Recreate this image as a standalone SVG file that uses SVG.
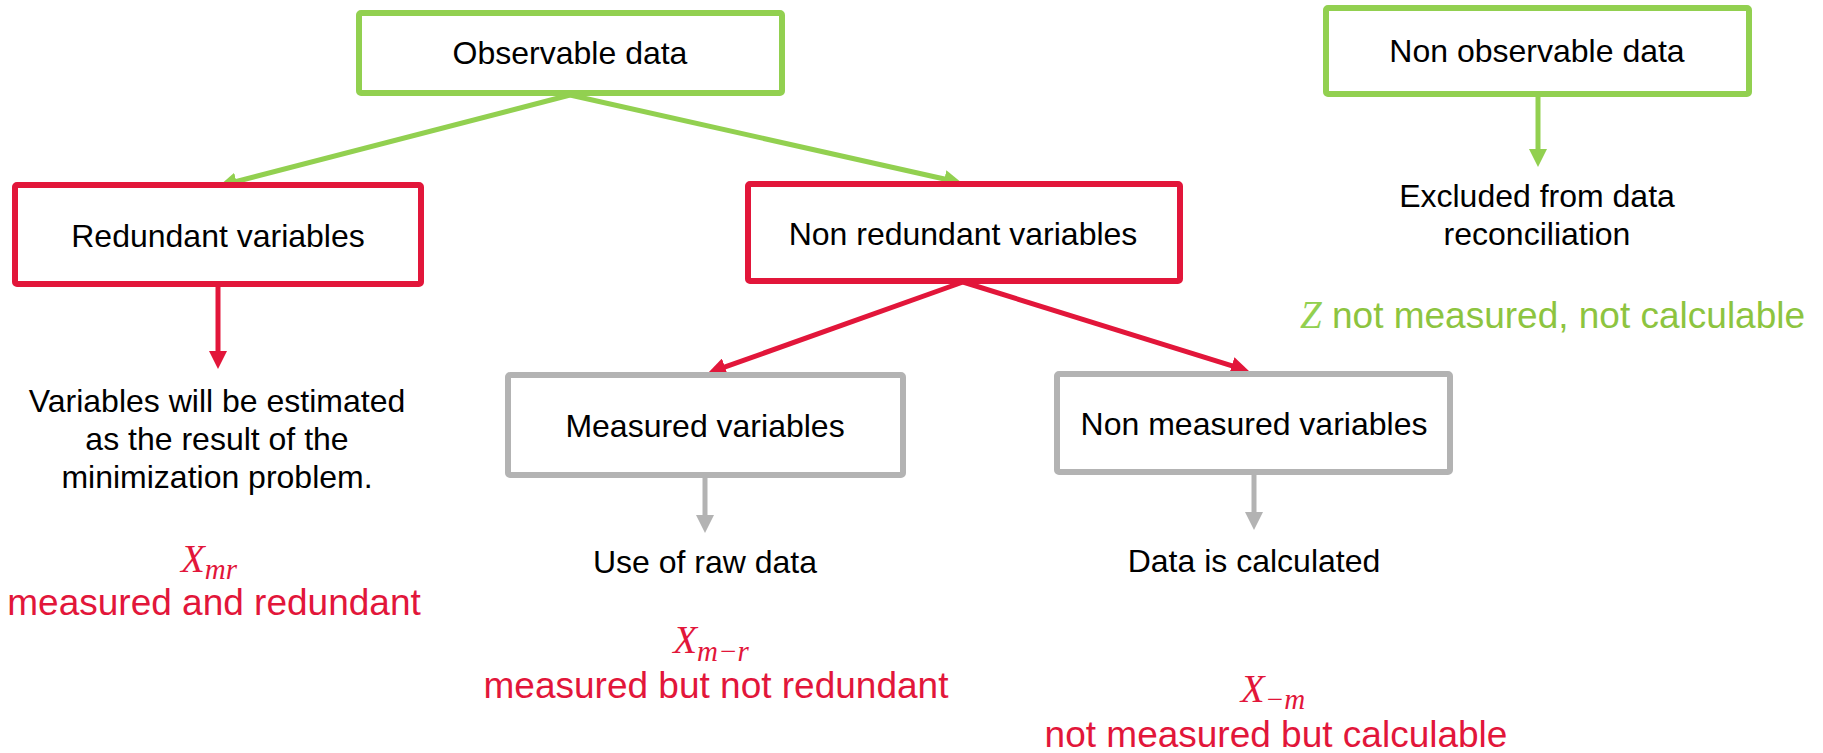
<svg xmlns="http://www.w3.org/2000/svg" width="1823" height="753" viewBox="0 0 1823 753">
  <style>
    .box { fill: #ffffff; stroke-width: 6; stroke-linejoin: round; }
    .green { stroke: #92d050; }
    .red { stroke: #e2163a; }
    .gray { stroke: #b3b3b3; }
    .lbl { font-family: "Liberation Sans", Arial, sans-serif; font-size: 32px; fill: #000000; text-anchor: middle; }
    .note { font-family: "Liberation Sans", Arial, sans-serif; font-size: 37px; text-anchor: middle; }
    .math { font-family: "Liberation Serif", "Times New Roman", serif; font-style: italic; font-size: 39px; }
    .sub { font-size: 29px; }
    .conn { fill: none; stroke-width: 5; }
  </style>
  <defs>
    <marker id="headGreen" markerUnits="userSpaceOnUse" markerWidth="18" markerHeight="18" refX="8" refY="9" orient="auto">
      <path d="M0,0 L18,9 L0,18 Z" fill="#92d050"/>
    </marker>
    <marker id="headRed" markerUnits="userSpaceOnUse" markerWidth="18" markerHeight="18" refX="8" refY="9" orient="auto">
      <path d="M0,0 L18,9 L0,18 Z" fill="#e2163a"/>
    </marker>
    <marker id="headGray" markerUnits="userSpaceOnUse" markerWidth="18" markerHeight="18" refX="8" refY="9" orient="auto">
      <path d="M0,0 L18,9 L0,18 Z" fill="#b3b3b3"/>
    </marker>
  </defs>

  <!-- connectors -->
  <g id="connectors">
    <line class="conn green" x1="570" y1="95" x2="228.7" y2="183.5" marker-end="url(#headGreen)"/>
    <line class="conn green" x1="570" y1="95" x2="952.2" y2="180.8" marker-end="url(#headGreen)"/>
    <line class="conn green" x1="1538" y1="96" x2="1538" y2="157" marker-end="url(#headGreen)"/>
    <line class="conn red" x1="218" y1="286" x2="218" y2="359" marker-end="url(#headRed)"/>
    <line class="conn red" x1="963" y1="282" x2="717.4" y2="369.7" marker-end="url(#headRed)"/>
    <line class="conn red" x1="963" y1="282" x2="1239.4" y2="368.1" marker-end="url(#headRed)"/>
    <line class="conn gray" x1="705" y1="477" x2="705" y2="523" marker-end="url(#headGray)"/>
    <line class="conn gray" x1="1254" y1="474" x2="1254" y2="520" marker-end="url(#headGray)"/>
  </g>

  <!-- nodes -->
  <g id="observable">
    <rect class="box green" x="359" y="13" width="423" height="80" rx="2"/>
    <text class="lbl" x="570" y="64">Observable data</text>
  </g>
  <g id="non-observable">
    <rect class="box green" x="1326" y="8" width="423" height="86" rx="2"/>
    <text class="lbl" x="1537" y="62">Non observable data</text>
  </g>
  <g id="redundant">
    <rect class="box red" x="15" y="185" width="406" height="99" rx="2"/>
    <text class="lbl" x="218" y="247">Redundant variables</text>
  </g>
  <g id="non-redundant">
    <rect class="box red" x="748" y="184" width="432" height="97" rx="2"/>
    <text class="lbl" x="963" y="245">Non redundant variables</text>
  </g>
  <g id="measured">
    <rect class="box gray" x="508" y="375" width="395" height="100" rx="2"/>
    <text class="lbl" x="705" y="437">Measured variables</text>
  </g>
  <g id="non-measured">
    <rect class="box gray" x="1057" y="374" width="393" height="98" rx="2"/>
    <text class="lbl" x="1254" y="435">Non measured variables</text>
  </g>

  <!-- outcome texts -->
  <g id="redundant-outcome">
    <text class="lbl" x="217" y="412">Variables will be estimated</text>
    <text class="lbl" x="217" y="450">as the result of the</text>
    <text class="lbl" x="217" y="488">minimization problem.</text>
    <text class="math" x="209" y="572" text-anchor="middle" fill="#e2163a">X<tspan class="sub" dy="7">mr</tspan></text>
    <text class="note" x="214" y="615" fill="#e2163a">measured and redundant</text>
  </g>
  <g id="measured-outcome">
    <text class="lbl" x="705" y="573">Use of raw data</text>
    <text class="math" x="711" y="653" text-anchor="middle" fill="#e2163a">X<tspan class="sub" dy="8">m−r</tspan></text>
    <text class="note" x="716" y="698" fill="#e2163a">measured but not redundant</text>
  </g>
  <g id="non-measured-outcome">
    <text class="lbl" x="1254" y="572">Data is calculated</text>
    <text class="math" x="1273" y="702" text-anchor="middle" fill="#e2163a">X<tspan class="sub" dy="7">−m</tspan></text>
    <text class="note" x="1276" y="747" fill="#e2163a">not measured but calculable</text>
  </g>
  <g id="non-observable-outcome">
    <text class="lbl" x="1537" y="207">Excluded from data</text>
    <text class="lbl" x="1537" y="245">reconciliation</text>
    <text x="1300" y="328" font-family="Liberation Sans, Arial, sans-serif" font-size="37" fill="#8dc43f"><tspan font-family="Liberation Serif, Times New Roman, serif" font-style="italic" font-size="39" fill="#92d050">Z</tspan> not measured, not calculable</text>
  </g>
</svg>
